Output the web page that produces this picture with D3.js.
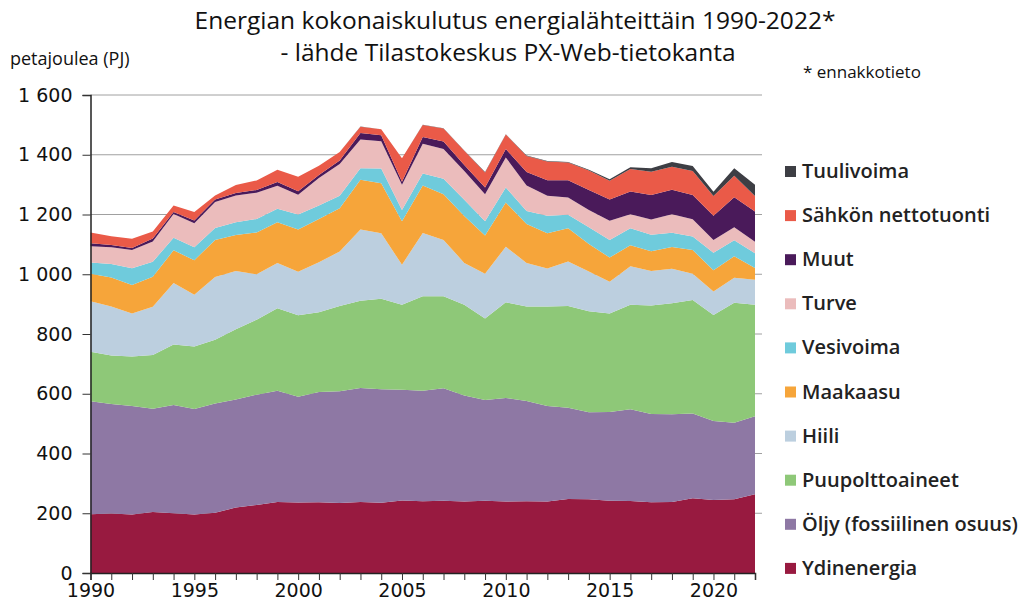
<!DOCTYPE html>
<html>
<head>
<meta charset="utf-8">
<script src="https://cdn.jsdelivr.net/npm/d3@7"></script>
<style>
  body { margin: 0; background: #fff; }
  svg { display: block; }
  .title { font-family: "Open Sans", sans-serif; font-size: 24.5px; fill: #111; }
  .tick text { font-family: "DejaVu Sans", sans-serif; font-size: 19px; fill: #111; }
  .legend text { font-family: "Open Sans", sans-serif; font-size: 20px; font-weight: 600; fill: #222; }
</style>
</head>
<body>
<div class="chart"></div>
<script>
var w = 1021,
  h = 607;

// vuodet 1990-2022
var years = d3.range(1990, 2023);

// PJ, luettu kuvasta
var ydinenergia = [197, 199, 196, 204, 200, 196, 202, 219, 228, 238, 236, 237, 234, 238, 235, 243, 240, 242, 239, 242, 239, 240, 239, 248, 247, 242, 241, 237, 238, 250, 244, 247, 264];
var oljy = [378, 367, 363, 346, 362, 353, 365, 362, 369, 372, 354, 369, 374, 381, 380, 370, 370, 376, 355, 337, 347, 336, 320, 305, 291, 297, 307, 295, 293, 284, 265, 256, 261];
var puu = [166, 162, 166, 180, 203, 209, 214, 235, 251, 276, 273, 267, 286, 292, 303, 285, 316, 308, 304, 273, 320, 316, 333, 341, 338, 330, 350, 363, 372, 380, 355, 402, 373];
var hiili = [169, 164, 144, 161, 206, 173, 210, 195, 152, 152, 145, 167, 182, 239, 219, 134, 212, 189, 140, 150, 186, 146, 127, 149, 133, 106, 129, 116, 115, 88, 78, 83, 84];
var maakaasu = [92, 97, 95, 101, 109, 116, 124, 120, 140, 136, 142, 145, 145, 166, 168, 145, 159, 153, 157, 128, 148, 130, 118, 111, 92, 81, 70, 66, 73, 79, 71, 72, 39];
var vesivoima = [37, 45, 56, 50, 42, 43, 40, 43, 45, 45, 50, 45, 42, 39, 49, 38, 40, 52, 54, 47, 50, 44, 59, 45, 56, 59, 57, 55, 48, 45, 59, 54, 49];
var turve = [55, 56, 61, 68, 80, 81, 87, 90, 88, 77, 66, 92, 106, 96, 91, 85, 100, 99, 97, 91, 101, 85, 67, 58, 58, 64, 47, 51, 62, 58, 43, 43, 39];
var muut = [10, 8, 7, 10, 6, 9, 8, 8, 9, 13, 12, 10, 12, 22, 20, 10, 22, 25, 20, 22, 28, 45, 52, 58, 67, 71, 76, 82, 82, 81, 81, 101, 101];
var sahko = [36, 29, 31, 23, 22, 28, 14, 27, 32, 41, 48, 31, 28, 21, 20, 78, 41, 44, 47, 51, 49, 54, 62, 59, 65, 63, 75, 78, 77, 81, 66, 72, 52];
var tuuli = [0, 0, 0, 0, 0, 0, 0, 0.1, 0.2, 0.2, 0.3, 0.3, 0.2, 0.3, 0.5, 0.6, 0.6, 0.7, 1, 1, 1, 1.7, 1.8, 2, 3, 5, 6, 12, 16, 16, 14, 25, 38];

var seriesNames = ['Ydinenergia', 'Öljy (fossiilinen osuus)', 'Puupolttoaineet', 'Hiili', 'Maakaasu', 'Vesivoima', 'Turve', 'Muut', 'Sähkön nettotuonti', 'Tuulivoima'];
var seriesData = [ydinenergia, oljy, puu, hiili, maakaasu, vesivoima, turve, muut, sahko, tuuli];
var colors = ['#981a40', '#8e78a4', '#8ec878', '#bccfdf', '#f6a53a', '#6fcbdc', '#ebbcbc', '#4a1a5a', '#ea5a48', '#3d3e44'];

var yTicks = [0, 200, 400, 600, 800, 1000, 1200, 1400, 1600];
var xTickLabels = [1990, 1995, 2000, 2005, 2010, 2015, 2020];

// taulukko d3.stackia varten
var table = years.map(function (y, i) {
  var row = { year: y };
  seriesNames.forEach(function (name, k) { row[name] = seriesData[k][i]; });
  return row;
});

var x = d3.scaleLinear().domain([1990, 2022]).range([90.5, 755]);
var y = d3.scaleLinear().domain([0, 1600]).range([573, 95]);
var fi = d3.formatLocale({ decimal: ',', thousands: ' ', grouping: [3], currency: ['', ' €'] });

var svg = d3.select('.chart')
  .append('svg')
  .attr('width', w)
  .attr('height', h);

// otsikko
svg.append('text').attr('class', 'title')
  .attr('x', 515).attr('y', 29).attr('text-anchor', 'middle')
  .text('Energian kokonaiskulutus energialähteittäin 1990-2022*');
svg.append('text').attr('class', 'title')
  .attr('x', 508).attr('y', 61).attr('text-anchor', 'middle')
  .text('- lähde Tilastokeskus PX-Web-tietokanta');

svg.append('text')
  .attr('x', 10).attr('y', 65)
  .style('font-family', '"Open Sans", sans-serif').style('font-size', '18px').style('fill', '#111')
  .text('petajoulea (PJ)');
svg.append('text')
  .attr('x', 803).attr('y', 78)
  .style('font-family', '"Open Sans", sans-serif').style('font-size', '17px').style('fill', '#111')
  .text('* ennakkotieto');

// ruudukko
svg.append('g')
  .selectAll('line')
  .data(yTicks.filter(function (d) { return d > 0; }))
  .enter()
  .append('line')
  .attr('x1', x(1990)).attr('x2', 762)
  .attr('y1', function (d) { return y(d); })
  .attr('y2', function (d) { return y(d); })
  .attr('stroke', '#a0a0a0')
  .attr('stroke-width', 1);

var stack = d3.stack().keys(seriesNames);
var layers = stack(table);

var area = d3.area()
  .x(function (d) { return x(d.data.year); })
  .y0(function (d) { return y(d[0]); })
  .y1(function (d) { return y(d[1]); });

svg.append('g')
  .selectAll('path')
  .data(layers)
  .enter()
  .append('path')
  .attr('d', area)
  .attr('fill', function (d, i) { return colors[i]; });

// akselit
var yAxis = d3.axisLeft(y)
  .tickValues(yTicks)
  .tickSize(8)
  .tickPadding(10)
  .tickFormat(fi.format(',d'));
svg.append('g')
  .attr('transform', 'translate(' + x(1990) + ',0)')
  .call(yAxis);

var xAxis = d3.axisBottom(x)
  .tickValues(years)
  .tickSize(7)
  .tickPadding(4)
  .tickFormat(function (d) { return xTickLabels.indexOf(d) >= 0 ? d : ''; });
svg.append('g')
  .attr('transform', 'translate(0,' + y(0) + ')')
  .call(xAxis);

svg.selectAll('.domain').attr('stroke', '#222').attr('stroke-width', 1.5);
svg.selectAll('.tick line').attr('stroke', '#333');

// selite
var legendOrder = seriesNames.slice().reverse();
var legend = svg.append('g').attr('class', 'legend')
  .selectAll('g')
  .data(legendOrder)
  .enter()
  .append('g')
  .attr('transform', function (d, i) { return 'translate(785,' + (171 + i * 44.1) + ')'; });

legend.append('rect')
  .attr('x', 0).attr('y', -5)
  .attr('width', 11).attr('height', 11)
  .attr('fill', function (d) { return colors[seriesNames.indexOf(d)]; });
legend.append('text')
  .attr('x', 17).attr('y', 7)
  .text(function (d) { return d; });
</script>
</body>
</html>
